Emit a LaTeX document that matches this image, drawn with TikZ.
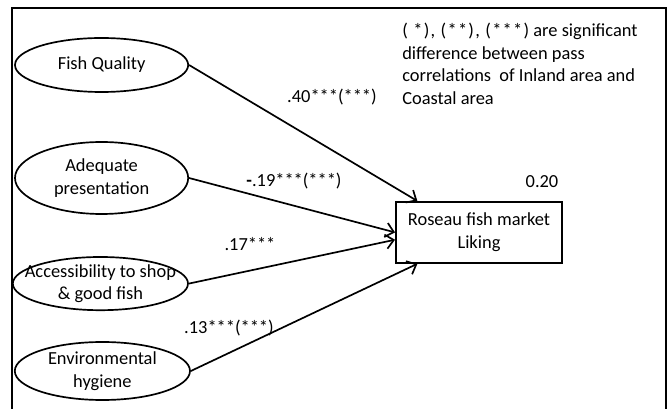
\documentclass[tikz,border=0pt]{standalone}
\usepackage{fontspec}
\setmainfont{Carlito}
\newfontfamily\spacedfont[LetterSpace=7]{Carlito}
\usepackage{tikz}
\usetikzlibrary{shapes.geometric, arrows.meta, positioning}
\tikzset{
	factor/.style  ={ellipse, draw=black, line width=1.2pt, minimum width=4.33cm, inner sep=0pt, align=center},
	outcome/.style ={rectangle, draw=black, line width=1.4pt, minimum width=4.15cm, minimum height=1.52cm, align=center},
	coef/.style    ={inner sep=0pt},
	effect/.style  ={-{Straight Barb[length=2mm, width=3.6mm]}, line width=1.2pt},
}

\begin{document}
\begin{tikzpicture}[font=\fontsize{13.1}{16}\selectfont]
	\useasboundingbox (0,0) rectangle (16.675,-10.225);
	% frame
	\draw[line width=1.5pt] (0.30,-10.4) -- (0.30,-0.20) -- (16.65,-0.20) -- (16.65,-10.4);
	% factors
	\node[factor, minimum height=1.35cm] (fq) at (2.54,-1.625) {Fish Quality};
	\node[factor, minimum height=1.80cm] (ap) at (2.54,-4.45) {Adequate\\presentation};
	\node[factor, minimum width=4.38cm, minimum height=1.33cm] (acc) at (2.51,-7.09) {};
	\node[align=center, inner sep=0pt] (acctext) at (acc) {Accessibility to shop\\\& good fish};
	\node[factor, minimum width=4.38cm, minimum height=1.45cm] (eh) at (2.56,-9.275) {Environmental\\hygiene};
	% outcome
	\node[outcome] (liking) at (11.975,-5.81) {Roseau fish market\\Liking};
	\node[coef] (r2) at (13.55,-4.55) {0.20};
	% paths
	\draw[effect] (fq.east) -- (liking.153);
	\draw[effect] (ap.east) -- (liking.west);
	\draw[effect] (acc.east) -- (liking.185);
	\draw[effect] (eh.east) -- (liking.207);
	\node[coef] (c40) at (8.3,-2.425) {.40***(***)};
	\node[coef] (c19) at (7.35,-4.525) {\textbf{-}.19***(***)};
	\node[coef] (c17) at (6.25,-6.1) {.17***};
	\node[coef] (c13) at (5.725,-8.2) {.13***(***)};
	% note
	\node[coef, anchor=north west, align=left] (note) at (10.05,-0.575) {{\spacedfont( *), (**), (***)} are significant\\difference between pass\\correlations~ of Inland area and\\Coastal area};
\end{tikzpicture}
\end{document}
